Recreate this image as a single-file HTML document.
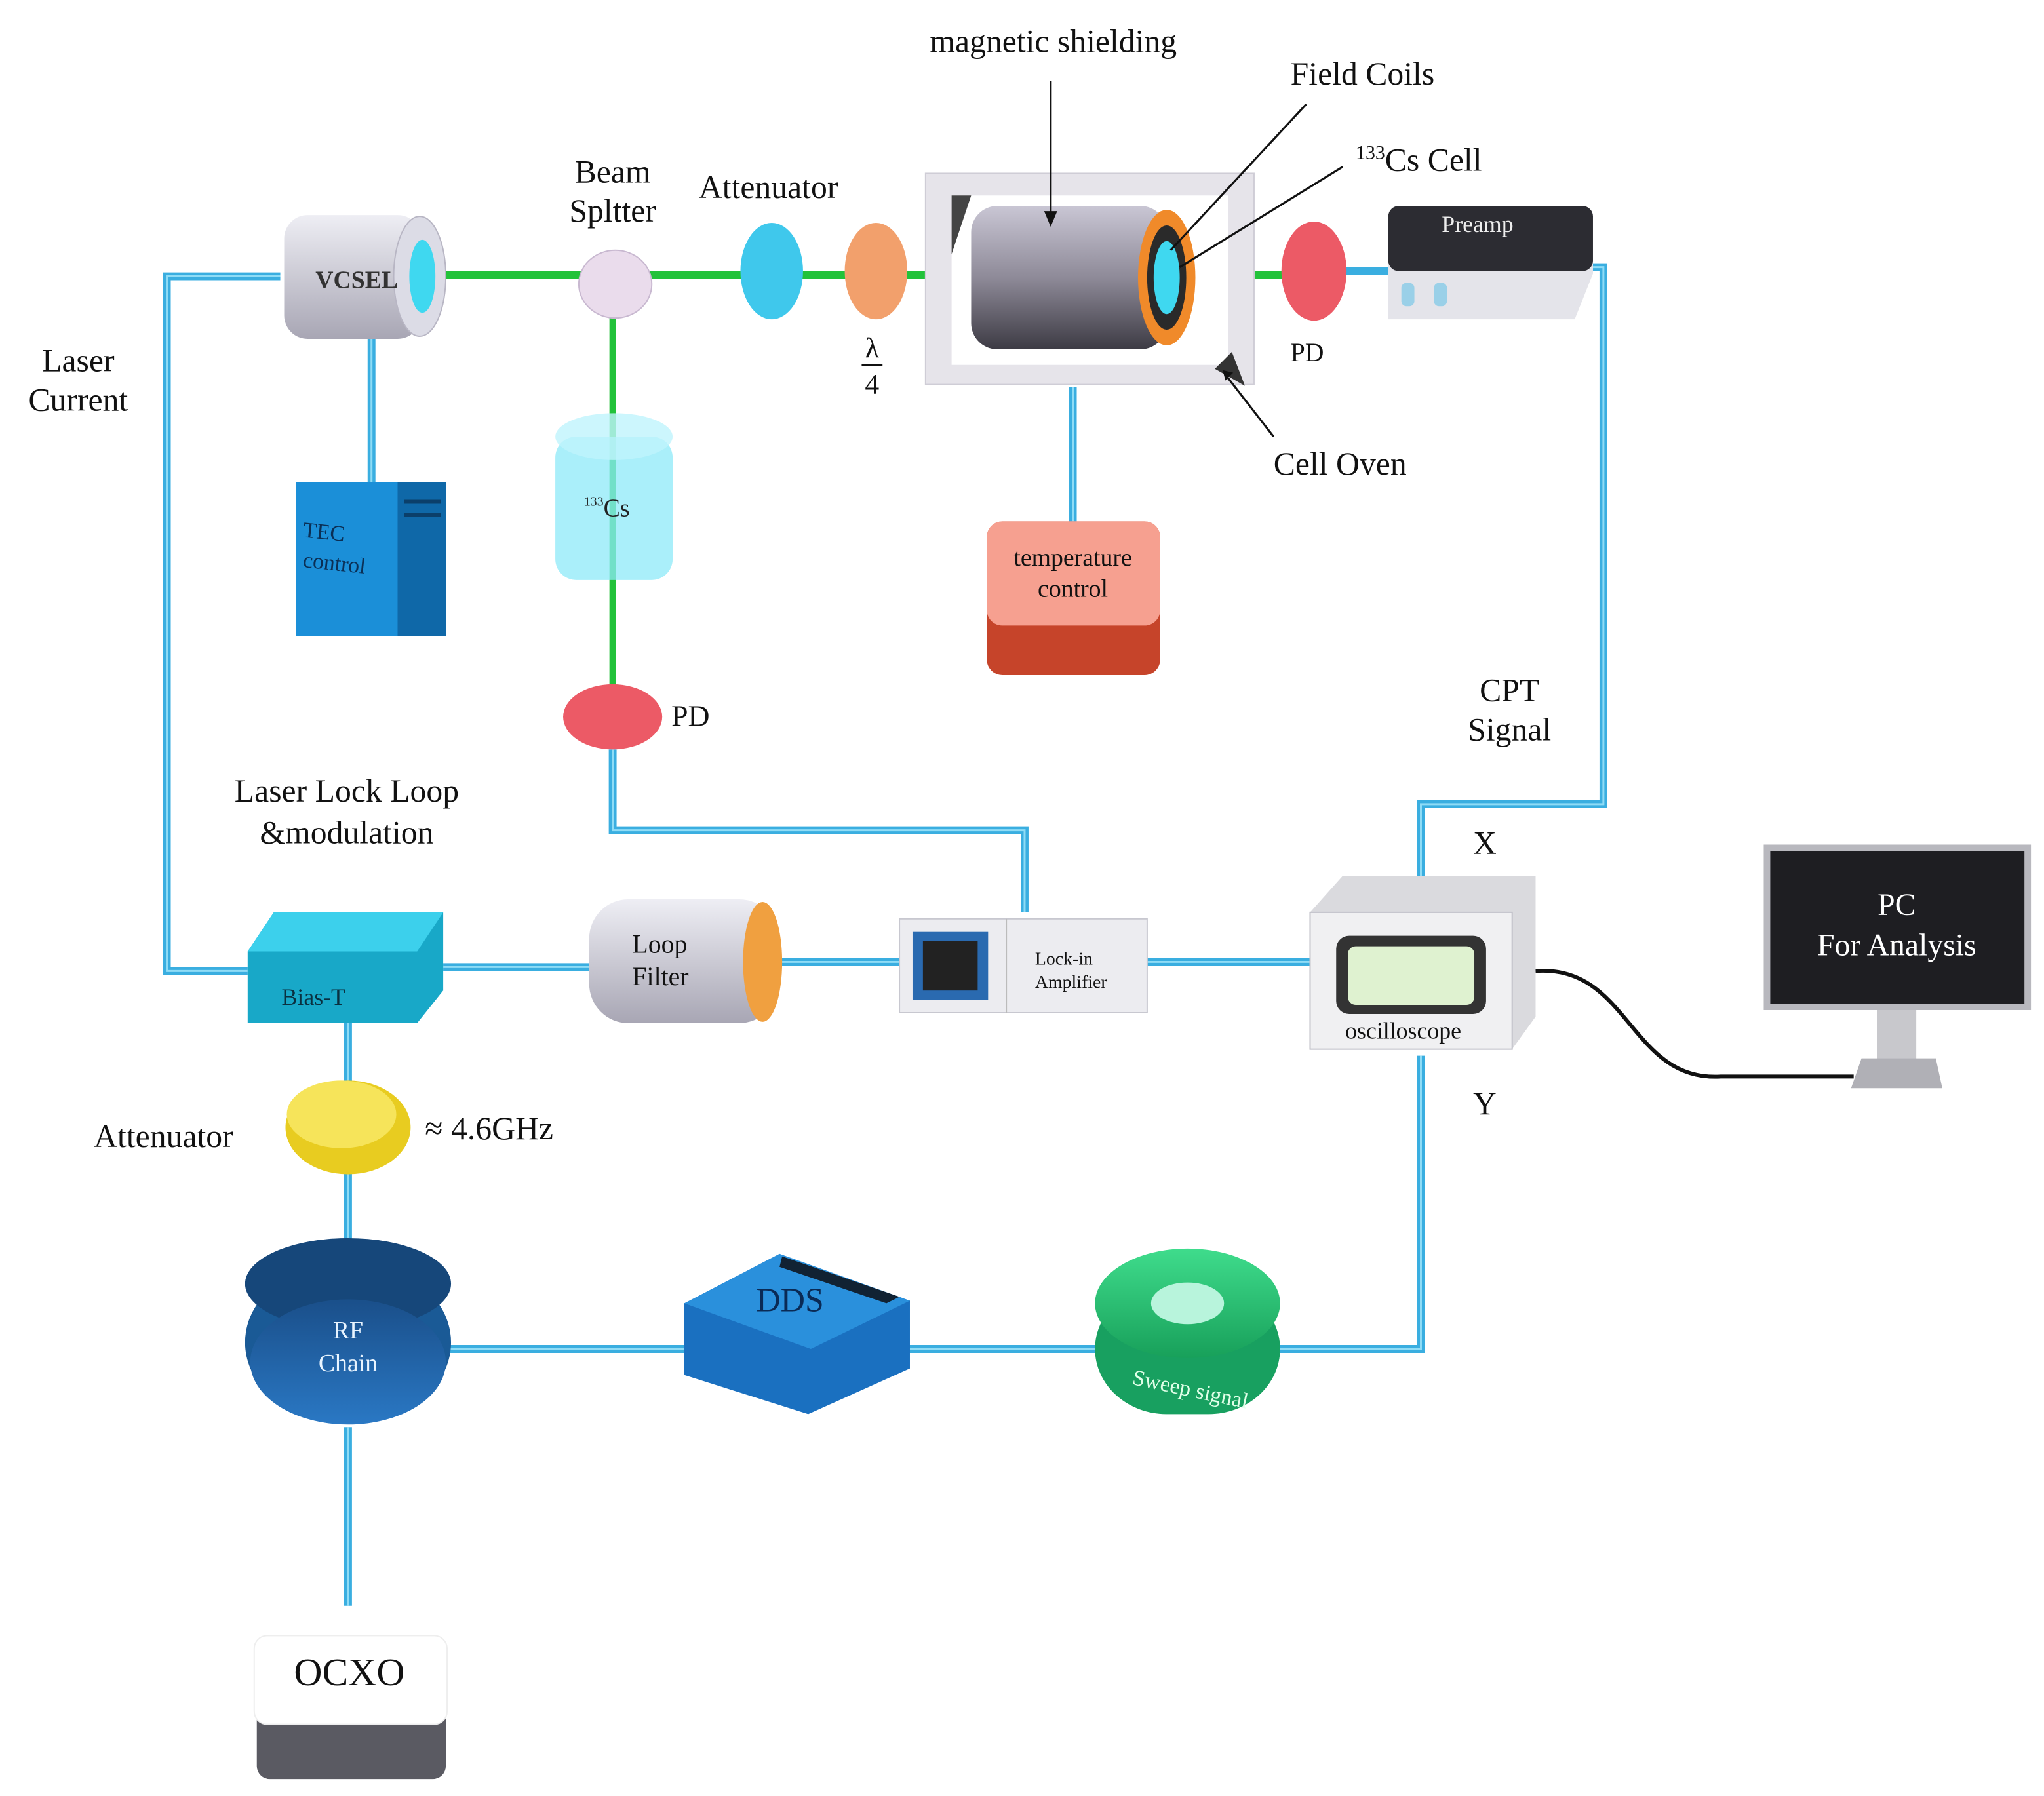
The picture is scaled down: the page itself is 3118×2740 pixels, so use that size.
<!DOCTYPE html>
<html><head><meta charset="utf-8"><style>
html,body{margin:0;padding:0;background:#fff;}
svg{display:block;fill:#111;}
text{font-family:"Liberation Serif",serif;}
</style></head><body>
<svg width="3118" height="2740" viewBox="0 0 1568 1378" preserveAspectRatio="none" xmlns="http://www.w3.org/2000/svg">
<defs>
<linearGradient id="cyl" x1="0" y1="0" x2="0" y2="1"><stop offset="0" stop-color="#c9c6d4"/><stop offset="0.5" stop-color="#8e8a98"/><stop offset="1" stop-color="#3d3b44"/></linearGradient>
<linearGradient id="vc" x1="0" y1="0" x2="0" y2="1"><stop offset="0" stop-color="#eeeef4"/><stop offset="1" stop-color="#a8a6b4"/></linearGradient>
<linearGradient id="grn" x1="0" y1="0" x2="0" y2="1"><stop offset="0" stop-color="#3fdc8c"/><stop offset="1" stop-color="#18a05a"/></linearGradient>
<linearGradient id="rf" x1="0" y1="0" x2="0" y2="1"><stop offset="0" stop-color="#1a4f8a"/><stop offset="1" stop-color="#2a78c4"/></linearGradient>
</defs>
<g fill="none" stroke-linejoin="miter">
<g stroke="#3aaee0" stroke-width="6">
<path d="M215 212 H128 V745 H190"/>
<path d="M285 258 V372"/>
<path d="M340 742 H455"/>
<path d="M595 738 H690"/>
<path d="M880 738 H1005"/>
<path d="M470 575 V637 H786 V700"/>
<path d="M1218 205 H1230 V617 H1090 V682"/>
<path d="M1090 810 V1035 H980"/>
<path d="M840 1035 H695"/>
<path d="M525 1035 H345"/>
<path d="M267 785 V960"/>
<path d="M267 1095 V1232"/>
<path d="M823 297 V400"/>
<path d="M1030 208 H1065"/>
</g>
<g stroke="#8fdcf6" stroke-width="1.5">
<path d="M215 212 H128 V745 H190"/><path d="M285 258 V372"/><path d="M340 742 H455"/><path d="M595 738 H690"/><path d="M880 738 H1005"/><path d="M470 575 V637 H786 V700"/><path d="M1218 205 H1230 V617 H1090 V682"/><path d="M1090 810 V1035 H980"/><path d="M840 1035 H695"/><path d="M525 1035 H345"/><path d="M267 785 V960"/><path d="M267 1095 V1232"/><path d="M823 297 V400"/>
</g>
<path d="M325 211 H1010" stroke="#22c23a" stroke-width="6"/>
<path d="M470 220 V548" stroke="#22c23a" stroke-width="5"/>
<path d="M1178 745 C1250 740 1250 830 1320 826 H1422" stroke="#111" stroke-width="3"/>
</g>
<!-- VCSEL -->
<rect x="218" y="165" width="105" height="95" rx="18" fill="url(#vc)"/>
<ellipse cx="322" cy="212" rx="20" ry="46" fill="#dcdce6" stroke="#b8b6c4"/>
<ellipse cx="324" cy="212" rx="10" ry="28" fill="#3fd8f0"/>
<text x="242" y="221" font-size="19" font-weight="bold" fill="#333">VCSEL</text>
<!-- Beam splitter -->
<ellipse cx="472" cy="218" rx="28" ry="26" fill="#eadcec" stroke="#c8b8d0"/>
<!-- attenuator & lambda/4 -->
<ellipse cx="592" cy="208" rx="24" ry="37" fill="#3fc8ec"/>
<ellipse cx="672" cy="208" rx="24" ry="37" fill="#f2a06c"/>
<!-- shielding box -->
<rect x="710" y="133" width="252" height="162" fill="#e6e4ea" stroke="#cfcdd6"/>
<rect x="730" y="150" width="212" height="130" fill="#fff"/>
<path d="M730 150 L745 150 L730 195Z" fill="#444"/>
<rect x="745" y="158" width="150" height="110" rx="20" fill="url(#cyl)"/>
<ellipse cx="895" cy="213" rx="22" ry="52" fill="#f08a2a"/>
<ellipse cx="895" cy="213" rx="15" ry="40" fill="#2a2a2a"/>
<ellipse cx="895" cy="213" rx="10" ry="28" fill="#3fd8f0"/>
<path d="M932 283 L955 296 L945 270Z" fill="#333"/>
<!-- PD right -->
<ellipse cx="1008" cy="208" rx="25" ry="38" fill="#ec5a66"/>
<!-- Preamp -->
<path d="M1065 195 H1222 V210 L1208 245 H1065Z" fill="#e4e4ea"/>
<rect x="1065" y="158" width="157" height="50" rx="8" fill="#2c2c32"/>
<text x="1106" y="178" font-size="18" fill="#eee">Preamp</text>
<rect x="1075" y="217" width="10" height="18" rx="4" fill="#9ad0e8"/><rect x="1100" y="217" width="10" height="18" rx="4" fill="#9ad0e8"/>
<!-- TEC -->
<rect x="227" y="370" width="115" height="118" fill="#1b8fd8"/>
<rect x="305" y="370" width="37" height="118" fill="#0f68a8"/>
<line x1="310" y1="385" x2="338" y2="385" stroke="#0b3f6a" stroke-width="3"/><line x1="310" y1="395" x2="338" y2="395" stroke="#0b3f6a" stroke-width="3"/>
<text x="232" y="412" font-size="17" fill="#0b2f55" transform="rotate(6 232 412)">TEC</text>
<text x="232" y="435" font-size="17" fill="#0b2f55" transform="rotate(6 232 435)">control</text>
<!-- Cs reference cell -->
<rect x="426" y="335" width="90" height="110" rx="16" fill="#8eeaf8" opacity="0.75"/>
<ellipse cx="471" cy="335" rx="45" ry="18" fill="#bff4fc" opacity="0.8"/>
<text x="448" y="396" font-size="19" fill="#222"><tspan font-size="10" dy="-8">133</tspan><tspan dy="8">Cs</tspan></text>
<!-- PD left -->
<ellipse cx="470" cy="550" rx="38" ry="25" fill="#ec5a66"/>
<!-- temperature control -->
<rect x="757" y="400" width="133" height="118" rx="12" fill="#c6442a"/>
<rect x="757" y="400" width="133" height="80" rx="12" fill="#f6a090"/>
<text x="823" y="434" font-size="19" text-anchor="middle">temperature</text>
<text x="823" y="458" font-size="19" text-anchor="middle">control</text>
<!-- Bias-T -->
<path d="M190 730 L210 700 H340 V760 L320 785 H190Z" fill="#18a8c8"/>
<path d="M190 730 L210 700 H340 L320 730Z" fill="#3cd0ec"/>
<text x="216" y="771" font-size="18" fill="#0a3040">Bias-T</text>
<!-- Loop Filter -->
<rect x="452" y="690" width="145" height="95" rx="30" fill="url(#vc)"/>
<ellipse cx="585" cy="738" rx="15" ry="46" fill="#f0a040"/>
<text x="485" y="731" font-size="20">Loop</text>
<text x="485" y="756" font-size="20">Filter</text>
<!-- Lock-in -->
<rect x="690" y="705" width="190" height="72" fill="#ececf0" stroke="#c8c8d0"/>
<rect x="700" y="715" width="58" height="52" fill="#2a6ab0"/><rect x="708" y="722" width="42" height="38" fill="#222"/>
<line x1="772" y1="705" x2="772" y2="777" stroke="#bbb"/>
<text x="794" y="740" font-size="14">Lock-in</text>
<text x="794" y="758" font-size="14">Amplifier</text>
<!-- oscilloscope -->
<path d="M1005 700 L1030 672 H1178 V780 L1160 805 H1005Z" fill="#dadade"/>
<rect x="1005" y="700" width="155" height="105" fill="#f0f0f2" stroke="#c0c0c8"/>
<rect x="1025" y="718" width="115" height="60" rx="10" fill="#333"/>
<rect x="1034" y="726" width="97" height="45" rx="6" fill="#dff2d0"/>
<text x="1032" y="797" font-size="18">oscilloscope</text>
<!-- PC -->
<rect x="1353" y="648" width="205" height="127" fill="#b8b8be"/>
<rect x="1358" y="653" width="195" height="117" fill="#1e1e22"/>
<text x="1455" y="702" font-size="24" fill="#fff" text-anchor="middle">PC</text>
<text x="1455" y="733" font-size="24" fill="#fff" text-anchor="middle">For Analysis</text>
<rect x="1440" y="775" width="30" height="38" fill="#c8c8cc"/>
<path d="M1420 835 L1428 812 H1485 L1490 835Z" fill="#b0b0b6"/>
<!-- Attenuator yellow -->
<ellipse cx="267" cy="865" rx="48" ry="36" fill="#e8cc20"/>
<ellipse cx="262" cy="855" rx="42" ry="26" fill="#f6e45a"/>
<!-- RF chain -->
<rect x="188" y="975" width="158" height="110" rx="60" fill="#1a5a96"/>
<ellipse cx="267" cy="985" rx="79" ry="35" fill="#16477a"/>
<ellipse cx="267" cy="1045" rx="75" ry="48" fill="url(#rf)"/>
<text x="267" y="1027" font-size="19" fill="#e8f4ff" text-anchor="middle">RF</text>
<text x="267" y="1052" font-size="19" fill="#e8f4ff" text-anchor="middle">Chain</text>
<!-- DDS -->
<path d="M525 1000 L598 962 L698 998 V1050 L620 1085 L525 1055Z" fill="#1a70c0"/>
<path d="M525 1000 L598 962 L698 998 L622 1035Z" fill="#2a90dc"/>
<path d="M598 972 L680 1000 L690 995 L600 964Z" fill="#123" />
<text x="580" y="1006" font-size="26" font-family="Liberation Sans,sans-serif" fill="#0a2a55">DDS</text>
<!-- Sweep -->
<rect x="840" y="985" width="142" height="100" rx="55" fill="#18a060"/>
<ellipse cx="911" cy="1000" rx="71" ry="42" fill="url(#grn)"/>
<ellipse cx="911" cy="1000" rx="28" ry="16" fill="#b8f4dc"/>
<text x="868" y="1062" font-size="17" fill="#e0ffe8" transform="rotate(12 868 1062)">Sweep signal</text>
<!-- OCXO -->
<rect x="197" y="1260" width="145" height="105" rx="10" fill="#5a5a62"/>
<rect x="195" y="1255" width="148" height="68" rx="10" fill="#fff" stroke="#eee"/>
<text x="268" y="1293" font-size="30" text-anchor="middle">OCXO</text>
<!-- arrows -->
<g stroke="#111" stroke-width="1.6">
<line x1="806" y1="62" x2="806" y2="168"/>
<line x1="1002" y1="80" x2="898" y2="192"/>
<line x1="1030" y1="128" x2="905" y2="205"/>
<line x1="977" y1="335" x2="942" y2="290"/>
</g>
<path d="M801 162 L806 174 L811 162Z" fill="#111"/>
<path d="M938 284 L940 292 L946 286Z" fill="#111"/>
<!-- labels -->
<g font-size="25">
<text x="808" y="40" text-anchor="middle">magnetic shielding</text>
<text x="990" y="65">Field Coils</text>
<text x="1040" y="131"><tspan font-size="15" dy="-9">133</tspan><tspan dy="9">Cs Cell</tspan></text>
<text x="470" y="140" text-anchor="middle">Beam</text>
<text x="470" y="170" text-anchor="middle">Spltter</text>
<text x="536" y="152">Attenuator</text>
<text x="60" y="285" text-anchor="middle">Laser</text>
<text x="60" y="315" text-anchor="middle">Current</text>
<text x="977" y="364">Cell Oven</text>
<text x="1158" y="538" text-anchor="middle">CPT</text>
<text x="1158" y="568" text-anchor="middle">Signal</text>
<text x="266" y="615" text-anchor="middle">Laser Lock Loop</text>
<text x="266" y="647" text-anchor="middle">&amp;modulation</text>
<text x="72" y="880">Attenuator</text>
<text x="326" y="874">≈ 4.6GHz</text>
<text x="1130" y="655">X</text>
<text x="1130" y="855">Y</text>
</g>
<text x="515" y="557" font-size="23">PD</text>
<text x="990" y="277" font-size="20">PD</text>
<text x="669" y="274" font-size="22" text-anchor="middle">λ</text>
<line x1="661" y1="280" x2="677" y2="280" stroke="#111" stroke-width="1.5"/>
<text x="669" y="302" font-size="22" text-anchor="middle">4</text>
</svg>
</body></html>
